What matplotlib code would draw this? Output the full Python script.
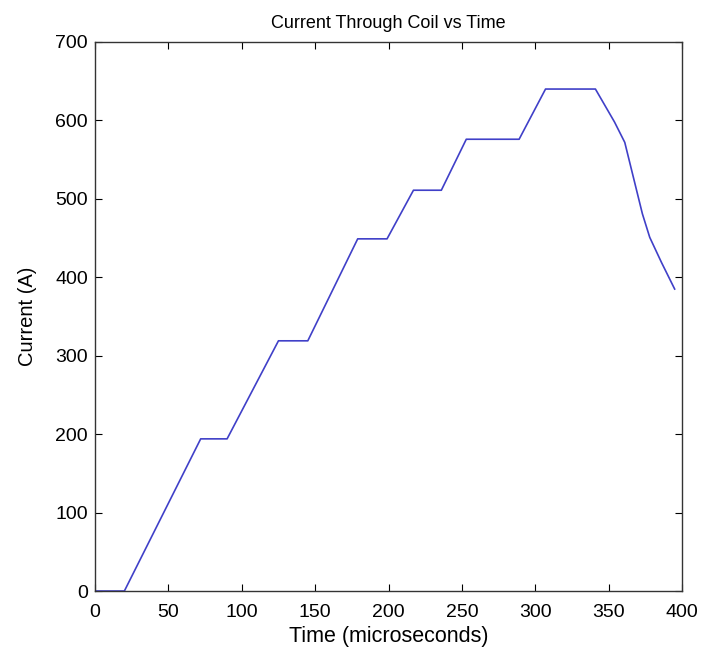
import matplotlib
matplotlib.use("Agg")
import matplotlib.pyplot as plt

# Breakpoints (time in microseconds, current in A)
time_us = [0, 20, 72, 90, 125, 145, 179, 199, 217, 236, 253, 289, 307, 341,
           354, 361, 373, 378, 386, 395]
current_a = [0, 0, 194, 194, 319, 319, 449, 449, 511, 511, 576, 576, 640, 640,
             598, 572, 481, 451, 419, 385]

x_ticks = [0, 50, 100, 150, 200, 250, 300, 350, 400]
y_ticks = [0, 100, 200, 300, 400, 500, 600, 700]

plt.rcParams["font.family"] = ["Liberation Sans", "DejaVu Sans"]

fig = plt.figure(figsize=(7.06, 6.54), dpi=100)
ax = fig.add_axes([0.1346, 0.0963, 0.8314, 0.8395])

ax.plot(time_us, current_a, color="#4040c8", linewidth=1.2)

ax.set_xlim(0, 400)
ax.set_ylim(0, 700)
ax.set_xticks(x_ticks)
ax.set_yticks(y_ticks)
ax.tick_params(direction="in", top=True, right=True, length=5, width=0.8,
               labelsize=14)
ax.tick_params(axis="x", pad=9)
ax.tick_params(axis="y", pad=5)
for s in ax.spines.values():
    s.set_linewidth(1.0)
    s.set_color("#333333")

ax.set_title("Current Through Coil vs Time", fontsize=13, pad=10)
ax.set_xlabel("Time (microseconds)", fontsize=15.5, labelpad=4)
ax.set_ylabel("Current (A)", fontsize=14.5, labelpad=13)

fig.savefig("out.png", dpi=100)
